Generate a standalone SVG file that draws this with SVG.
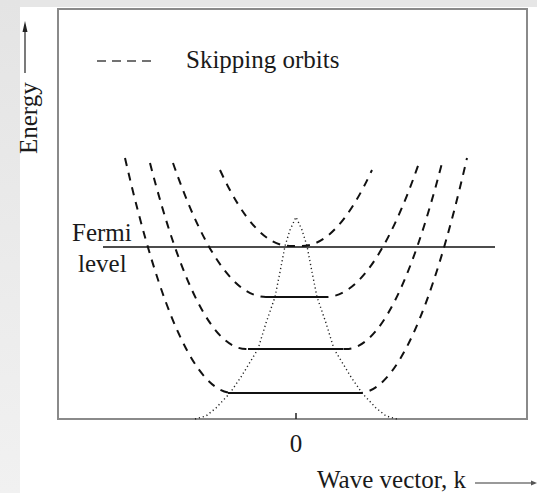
<svg xmlns="http://www.w3.org/2000/svg" width="537" height="493" viewBox="0 0 537 493">
  <defs>
    <linearGradient id="band" x1="0" y1="0" x2="0" y2="1">
      <stop offset="0" stop-color="#e4e4e4"/>
      <stop offset="1" stop-color="#f1f1f1"/>
    </linearGradient>
    <style>
      .t { font-family: "Liberation Serif", "Times New Roman", serif; font-size: 25px; fill: #1a1a1a; }
      .orbit { fill: none; stroke: #111; stroke-width: 2; stroke-dasharray: 8 7; }
      .level { fill: none; stroke: #111; stroke-width: 2; }
      .env { fill: none; stroke: #222; stroke-width: 1.4; stroke-dasharray: 1.2 2.8; }
      .frame { fill: none; stroke: #8a8a8a; stroke-width: 2; }
    </style>
  </defs>

  <rect x="0" y="0" width="537" height="493" fill="#e6e6e6"/>
  <rect x="0" y="0" width="20" height="493" fill="url(#band)"/>
  <rect x="20" y="7" width="517" height="486" fill="#ffffff"/>

  <g id="frame">
    <rect class="frame" x="58" y="9" width="469" height="410"/>
    <line x1="296" y1="413" x2="296" y2="419" stroke="#222" stroke-width="1.5"/>
  </g>

  <g id="axis-energy">
    <line x1="25" y1="73" x2="25" y2="28" stroke="#222" stroke-width="1.2"/>
    <polygon points="25,21 22.5,32 27.5,32" fill="#222"/>
    <text class="t" transform="translate(37,154) rotate(-90)">Energy</text>
  </g>

  <g id="axis-k">
    <text class="t" x="317" y="488">Wave vector, k</text>
    <line x1="475" y1="483" x2="532" y2="483" stroke="#777" stroke-width="1.5"/>
    <polygon points="531,480.5 537,483 531,485.5" fill="#555"/>
    <text class="t" x="296" y="452" text-anchor="middle">0</text>
  </g>

  <g id="legend">
    <line x1="97" y1="61" x2="157" y2="61" stroke="#444" stroke-width="1.5" stroke-dasharray="9 6"/>
    <text class="t" x="186" y="68">Skipping orbits</text>
  </g>

  <g id="fermi">
    <line x1="103" y1="247" x2="495" y2="247" stroke="#111" stroke-width="1.3"/>
    <text class="t" x="72" y="241">Fermi</text>
    <text class="t" x="78" y="272">level</text>
  </g>

  <g id="envelope">
    <path class="env" d="M195,419 L206,416 L216,408 L230,393 L241,377 L258,349 L266,323 L275,297 L280,272 L285,246 L290,230 L296,217 L302,230 L307,246 L312,272 L317,297 L326,323 L334,349 L351,377 L362,393 L376,408 L386,416 L397,419"/>
  </g>

  <g id="orbits">
    <path class="orbit" d="M220,170 Q255,246 290,246 L302,246 Q337,246 372,170"/>
    <path class="orbit" d="M173,163 Q219.5,297 266,297 L326,297 Q372.5,297 419,163"/>
    <path class="orbit" d="M150,163 Q198,349 246,349 L346,349 Q394,349 442,163"/>
    <path class="orbit" d="M125,158 Q179,393 233,393 L359,393 Q413,393 467,158"/>
  </g>

  <g id="levels">
    <line class="level" x1="268" y1="297" x2="323" y2="297"/>
    <line class="level" x1="248" y1="349" x2="343" y2="349"/>
    <line class="level" x1="228" y1="393" x2="362" y2="393"/>
  </g>
</svg>
